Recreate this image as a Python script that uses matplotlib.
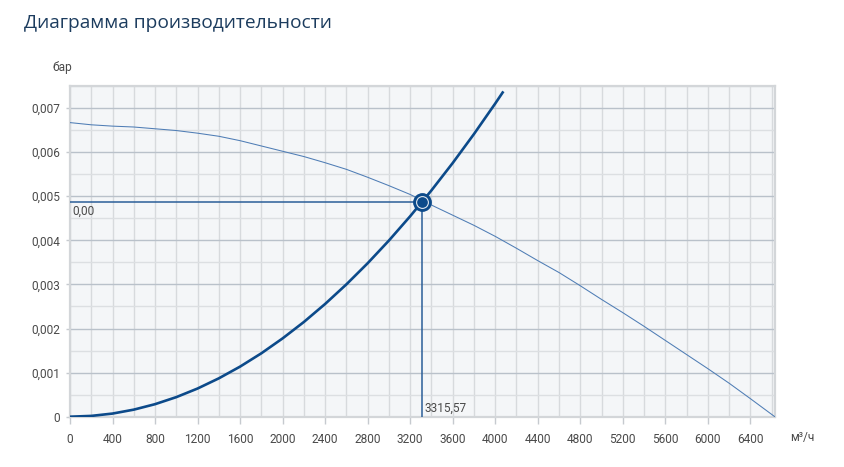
import matplotlib
matplotlib.use("Agg")
import matplotlib.pyplot as plt
import numpy as np

# ---- data ----
fan_q = [0, 200, 400, 600, 800, 1000, 1200, 1400, 1600, 1800, 2000, 2200, 2400,
         2600, 2800, 3000, 3200, 3400, 3600, 3800, 4000, 4200, 4400, 4600, 4800,
         5000, 5200, 5400, 5600, 5800, 6000, 6200, 6400, 6630]
fan_p = [0.00667, 0.00662, 0.00659, 0.00657, 0.00653, 0.00649, 0.00643, 0.00636,
         0.00626, 0.00614, 0.00602, 0.00590, 0.00576, 0.00561, 0.00543, 0.00524,
         0.00504, 0.00480, 0.00457, 0.00434, 0.00409, 0.00382, 0.00354, 0.00327,
         0.00297, 0.00266, 0.00236, 0.00205, 0.00173, 0.00141, 0.00109, 0.00076,
         0.00041, 0.0]

sys_q = [0, 200, 400, 600, 800, 1000, 1200, 1400, 1600, 1800, 2000, 2200, 2400,
         2600, 2800, 3000, 3200, 3400, 3600, 3800, 4000, 4070]
sys_p = [0.0, 0.000018, 0.000071, 0.000160, 0.000284, 0.000444, 0.000639, 0.000870,
         0.001136, 0.001438, 0.001776, 0.002148, 0.002557, 0.003001, 0.003480,
         0.003995, 0.004546, 0.005132, 0.005753, 0.006410, 0.007102, 0.007353]

op_q = 3315.57
op_p = 0.00488
op_label_q = "3315,57"
op_label_p = "0,00"

x_ticks = list(range(0, 6401, 400))
y_ticks = [0, 0.001, 0.002, 0.003, 0.004, 0.005, 0.006, 0.007]
y_tick_labels = ["0", "0,001", "0,002", "0,003", "0,004", "0,005", "0,006", "0,007"]

title = "Диаграмма производительности"
y_unit = "бар"
x_unit = "м³/ч"

# ---- figure ----
W, H = 844, 467
fig = plt.figure(figsize=(W / 100, H / 100), dpi=100)
plt.rcParams['font.family'] = ['Roboto', 'DejaVu Sans']

x0, x1 = 70, 775
y0, y1 = 416.7, 86
ax = fig.add_axes([x0 / W, 1 - y0 / H, (x1 - x0) / W, (y0 - y1) / H])
ax.set_facecolor("#f4f6f8")
ax.set_xlim(0, 6632)
ax.set_ylim(0, 0.00735)

ax.set_xticks(x_ticks)
ax.set_xticks(list(range(200, 6632, 400)), minor=True)
ax.set_yticks(y_ticks)
ax.set_yticklabels(y_tick_labels)
ax.set_yticks([0.0005 + 0.001 * i for i in range(8)], minor=True)

ax.xaxis.grid(True, which='both', color="#d7dadd", linewidth=1.0)
ax.yaxis.grid(True, which='major', color="#b9c1ca", linewidth=1.0)
ax.yaxis.grid(True, which='minor', color="#dcdfe2", linewidth=1.0)
ax.set_axisbelow(True)

for s in ax.spines.values():
    s.set_color("#d3d6d9")
    s.set_linewidth(1.6)

ax.tick_params(axis='x', which='major', length=5, width=1, color="#c6cacf",
               labelsize=8.6, labelcolor="#4a4a4a", pad=7)
ax.tick_params(axis='y', which='major', length=3, width=1, color="#c6cacf",
               labelsize=8.6, labelcolor="#4a4a4a", pad=4)
ax.tick_params(which='minor', length=0)

# curves
ax.plot(fan_q, fan_p, color="#4f7db5", linewidth=0.75, zorder=3)
ax.plot(sys_q, sys_p, color="#0c4a8a", linewidth=1.9, zorder=4, clip_on=True)

# operating point guide lines
ax.plot([0, op_q], [op_p, op_p], color="#2a5e98", linewidth=1.1, zorder=3)
ax.plot([op_q, op_q], [0, op_p], color="#2a5e98", linewidth=1.1, zorder=3)

# marker
ax.plot([op_q], [op_p], marker='o', markersize=12.5, markerfacecolor="#0c4a8a",
        markeredgecolor="#0c4a8a", zorder=5)
ax.plot([op_q], [op_p], marker='o', markersize=8.5, markerfacecolor="#0c4a8a",
        markeredgecolor="#dfe6ee", markeredgewidth=0.8, zorder=6)

ax.annotate(op_label_p, xy=(0, op_p), xytext=(2, -2), textcoords='offset points',
            ha='left', va='top', fontsize=8.6, color="#4a4a4a", zorder=7)
ax.annotate(op_label_q, xy=(op_q, 0), xytext=(1.5, 1.5), textcoords='offset points',
            ha='left', va='bottom', fontsize=8.6, color="#4a4a4a", zorder=7)

fig.text(24 / W, 1 - 23 / H, title, ha='left', va='center', fontsize=13.8,
         color="#1c3c5e", family=['Open Sans', 'DejaVu Sans'])
fig.text(62 / W, 1 - 68 / H, y_unit, ha='center', va='center', fontsize=8.6,
         color="#4a4a4a")
fig.text(790 / W, 1 - 437 / H, x_unit, ha='left', va='center', fontsize=8.6,
         color="#4a4a4a")

fig.savefig("out.png", dpi=100)
